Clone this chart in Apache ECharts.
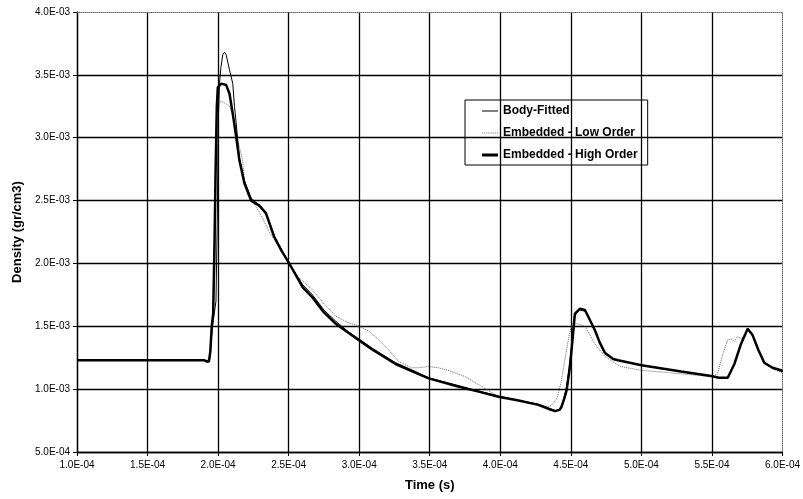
<!DOCTYPE html>
<html>
<head>
<meta charset="utf-8">
<script src="https://cdn.jsdelivr.net/npm/echarts@6/dist/echarts.min.js"></script>
<style>
  html, body { margin: 0; padding: 0; background: #fff; }
  #container { width: 803px; height: 499px; }
</style>
</head>
<body>
<div id="container"></div>
<script>
// time in units of 1e-4 s, density in units of 1e-3 gr/cm3
var bodyTime = [1.00, 1.90, 1.92, 1.94, 1.96, 1.985, 1.995, 2.00, 2.01, 2.02, 2.033, 2.045, 2.057, 2.081, 2.104, 2.116, 2.128, 2.139, 2.151, 2.186, 2.234, 2.292, 2.339, 2.398, 2.45, 2.504, 2.60, 2.669, 2.75, 2.834, 2.92, 3.01, 3.10, 3.258, 3.38, 3.493, 3.70, 3.846, 3.987, 4.13, 4.27, 4.35, 4.39, 4.42, 4.44, 4.47, 4.49, 4.505, 4.525, 4.56, 4.60, 4.635, 4.67, 4.705, 4.741, 4.80, 4.835, 5.00, 5.28, 5.49, 5.55, 5.61, 5.66, 5.706, 5.753, 5.788, 5.83, 5.871, 5.93, 5.988, 6.00];
var bodyDensity = [1.23, 1.23, 1.22, 1.24, 1.50, 1.70, 2.40, 3.10, 3.43, 3.56, 3.66, 3.68, 3.66, 3.54, 3.43, 3.25, 3.12, 2.98, 2.84, 2.66, 2.52, 2.46, 2.39, 2.22, 2.11, 2.00, 1.83, 1.75, 1.63, 1.54, 1.46, 1.39, 1.32, 1.21, 1.15, 1.09, 1.03, 0.985, 0.945, 0.91, 0.88, 0.845, 0.83, 0.84, 0.88, 1.02, 1.18, 1.33, 1.58, 1.63, 1.62, 1.55, 1.46, 1.37, 1.28, 1.24, 1.23, 1.19, 1.14, 1.105, 1.09, 1.09, 1.20, 1.36, 1.48, 1.43, 1.31, 1.21, 1.17, 1.15, 1.14];

var lowTime = [1.00, 1.90, 1.92, 1.94, 1.955, 1.97, 1.98, 1.986, 1.998, 2.022, 2.057, 2.081, 2.116, 2.139, 2.174, 2.186, 2.198, 2.23, 2.269, 2.316, 2.363, 2.41, 2.46, 2.504, 2.56, 2.62, 2.669, 2.75, 2.834, 2.92, 3.00, 3.07, 3.14, 3.21, 3.28, 3.37, 3.42, 3.49, 3.56, 3.63, 3.75, 3.87, 3.99, 4.13, 4.27, 4.34, 4.36, 4.40, 4.43, 4.46, 4.49, 4.51, 4.55, 4.60, 4.67, 4.741, 4.85, 5.00, 5.20, 5.40, 5.49, 5.54, 5.57, 5.61, 5.635, 5.66, 5.682, 5.706, 5.74, 5.753, 5.788, 5.83, 5.871, 5.93, 6.00];
var lowDensity = [1.23, 1.23, 1.22, 1.25, 1.45, 1.70, 2.10, 3.14, 3.25, 3.29, 3.27, 3.25, 3.14, 2.98, 2.82, 2.66, 2.61, 2.52, 2.45, 2.36, 2.25, 2.17, 2.08, 2.00, 1.90, 1.84, 1.79, 1.68, 1.58, 1.53, 1.50, 1.46, 1.39, 1.31, 1.22, 1.17, 1.17, 1.18, 1.17, 1.15, 1.10, 1.02, 0.94, 0.91, 0.88, 0.86, 0.87, 0.92, 1.05, 1.25, 1.44, 1.52, 1.52, 1.50, 1.36, 1.26, 1.18, 1.15, 1.13, 1.11, 1.10, 1.12, 1.25, 1.39, 1.40, 1.38, 1.42, 1.40, 1.44, 1.47, 1.42, 1.30, 1.20, 1.16, 1.13];

var highTime = [1.00, 1.80, 1.90, 1.92, 1.935, 1.945, 1.955, 1.965, 1.975, 1.982, 1.991, 1.998, 2.022, 2.057, 2.081, 2.104, 2.128, 2.151, 2.186, 2.234, 2.292, 2.339, 2.398, 2.45, 2.504, 2.60, 2.669, 2.75, 2.834, 2.92, 3.01, 3.10, 3.258, 3.38, 3.493, 3.70, 3.846, 3.987, 4.13, 4.27, 4.35, 4.388, 4.42, 4.434, 4.455, 4.47, 4.49, 4.505, 4.529, 4.565, 4.60, 4.635, 4.67, 4.705, 4.741, 4.80, 4.835, 5.00, 5.282, 5.494, 5.55, 5.612, 5.659, 5.706, 5.753, 5.788, 5.83, 5.871, 5.93, 5.988, 6.00];
var highDensity = [1.23, 1.23, 1.23, 1.22, 1.22, 1.30, 1.50, 1.60, 2.19, 2.72, 3.25, 3.40, 3.43, 3.42, 3.35, 3.19, 3.01, 2.82, 2.64, 2.50, 2.46, 2.40, 2.21, 2.10, 2.00, 1.81, 1.73, 1.61, 1.52, 1.45, 1.38, 1.31, 1.20, 1.14, 1.086, 1.02, 0.98, 0.94, 0.91, 0.875, 0.84, 0.825, 0.835, 0.86, 0.93, 0.99, 1.15, 1.31, 1.60, 1.64, 1.63, 1.55, 1.47, 1.37, 1.29, 1.24, 1.23, 1.19, 1.14, 1.105, 1.09, 1.09, 1.20, 1.36, 1.48, 1.43, 1.31, 1.21, 1.17, 1.15, 1.14];

var seriesNames = ['Body-Fitted', 'Embedded - Low Order', 'Embedded - High Order'];

function pairs(ts, ds) {
    return ts.map(function (t, i) { return [t * 1e-4, ds[i] * 1e-3]; });
}

function sci(v) {
    var s = v.toExponential(1).toUpperCase();
    return s.replace(/E([+-])(\d)$/, 'E$10$2');
}

var font = 'Liberation Sans, Arial, sans-serif';
var labelFont = { fontFamily: font, fontSize: 10, color: '#000' };

// legend swatches: a short line each (thin, dotted, thick)
var iconThin = 'path://M0,0L0,3M0,1H16V2H0Z';
var iconDotted = 'path://M0,0L0,3M0,1H1V2H0ZM2,1H3V2H2ZM4,1H5V2H4ZM6,1H7V2H6ZM8,1H9V2H8ZM10,1H11V2H10ZM12,1H13V2H12ZM14,1H15V2H14Z';
var iconThick = 'path://M0,0H16V3H0Z';

var dom = document.getElementById('container');
var myChart = echarts.init(dom, null, { renderer: 'canvas' });

var option = {
    animation: false,
    backgroundColor: '#fff',
    grid: { left: 77, right: 18, top: 12, bottom: 47 },
    legend: {
        data: [
            { name: seriesNames[0], icon: iconThin, itemStyle: { color: '#000' } },
            { name: seriesNames[1], icon: iconDotted, itemStyle: { color: '#777' } },
            { name: seriesNames[2], icon: iconThick, itemStyle: { color: '#000' } }
        ],
        orient: 'vertical',
        left: 465,
        top: 100,
        borderColor: '#000',
        borderWidth: 1,
        borderRadius: 0,
        padding: [5, 10, 4, 17],
        itemWidth: 16,
        itemHeight: 12,
        itemGap: 10,
        textStyle: { fontFamily: font, fontSize: 12, fontWeight: 'bold', color: '#000' }
    },
    xAxis: [{
        type: 'value',
        min: 1e-4,
        max: 6e-4,
        interval: 0.5e-4,
        name: 'Time (s)',
        nameLocation: 'middle',
        nameGap: 27,
        nameTextStyle: { fontFamily: font, fontSize: 13, fontWeight: 'bold', color: '#000' },
        axisLine: { lineStyle: { color: '#000', width: 1.3 } },
        axisTick: { show: true, length: 4, lineStyle: { color: '#000' } },
        axisLabel: Object.assign({ margin: 8, formatter: sci }, labelFont),
        splitLine: { show: true, showMaxLine: false, lineStyle: { color: '#000', width: 1.3 } }
    }, {
        type: 'value',
        position: 'top',
        min: 1e-4,
        max: 6e-4,
        axisLine: { show: true, lineStyle: { color: '#666', type: 'dotted', width: 1 } },
        axisTick: { show: false },
        axisLabel: { show: false },
        splitLine: { show: false }
    }],
    yAxis: [{
        type: 'value',
        min: 5e-4,
        max: 4e-3,
        interval: 5e-4,
        name: 'Density (gr/cm3)',
        nameLocation: 'middle',
        nameGap: 53,
        nameTextStyle: { fontFamily: font, fontSize: 13, fontWeight: 'bold', color: '#000' },
        axisLine: { show: true, lineStyle: { color: '#000', width: 1.3 } },
        axisTick: { show: true, length: 4, lineStyle: { color: '#000' } },
        axisLabel: Object.assign({ margin: 7, formatter: sci }, labelFont),
        splitLine: { show: true, showMaxLine: false, lineStyle: { color: '#000', width: 1.3 } }
    }, {
        type: 'value',
        position: 'right',
        min: 5e-4,
        max: 4e-3,
        axisLine: { show: true, lineStyle: { color: '#666', type: 'dotted', width: 1 } },
        axisTick: { show: false },
        axisLabel: { show: false },
        splitLine: { show: false }
    }],
    series: [{
        name: seriesNames[0],
        type: 'line',
        symbol: 'none',
        z: 3,
        data: pairs(bodyTime, bodyDensity),
        itemStyle: { color: '#000' },
        lineStyle: { color: '#000', width: 1 }
    }, {
        name: seriesNames[1],
        type: 'line',
        symbol: 'none',
        z: 2,
        data: pairs(lowTime, lowDensity),
        itemStyle: { color: '#777' },
        lineStyle: { color: '#666', width: 1, type: 'dotted' }
    }, {
        name: seriesNames[2],
        type: 'line',
        symbol: 'none',
        z: 4,
        data: pairs(highTime, highDensity),
        itemStyle: { color: '#000' },
        lineStyle: { color: '#000', width: 2.5 }
    }]
};

myChart.setOption(option);
window.addEventListener('resize', myChart.resize);
</script>
</body>
</html>
